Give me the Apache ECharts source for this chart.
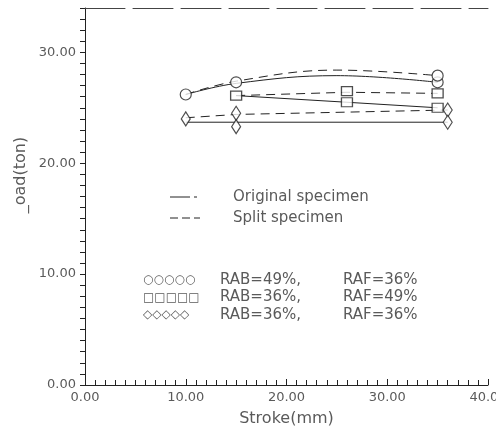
<!DOCTYPE html>
<html><head><meta charset="utf-8">
<script src="https://cdn.jsdelivr.net/npm/echarts@6/dist/echarts.min.js"></script>
<style>html,body{margin:0;padding:0;background:#fff;overflow:hidden}#c{width:496px;height:432px}</style>
</head><body><div id="c"></div>
<script>
// ---- data ----
const xTicks = [0, 10, 20, 30, 40];
const yTicks = [0, 10, 20, 30];
// fitted curves (solid = Original specimen, dashed = Split specimen)
const circOrigLine  = [[10,26.2],[15,27.2],[25,27.9],[35,27.3]];
const circSplitLine = [[10,26.2],[15,27.4],[25,28.4],[35,27.9]];
const sqOrigLine    = [[15,26.1],[26,25.5],[35,25.0]];
const sqSplitLine   = [[15,26.1],[26,26.4],[35,26.3]];
const diaOrigLine   = [[10,23.7],[36,23.7]];
const diaSplitLine  = [[10,24.1],[15,24.4],[36,24.8]];
// measured points
const circlePts  = [[10,26.2],[15,27.3],[35,27.3],[35,27.9]];
const squarePts  = [[15,26.1],[26,26.5],[26,25.5],[35,26.3],[35,25.0]];
const diamondPts = [[10,24.0],[15,24.5],[15,23.3],[36,24.8],[36,23.7]];
const seriesNames = ['Original specimen', 'Split specimen'];
const markerLabels = [['RAB=49%,', 'RAF=36%'], ['RAB=36%,', 'RAF=49%'], ['RAB=36%,', 'RAF=36%']];
const markerGlyphs = ['○○○○○', '□□□□□', '◇◇◇◇◇'];

const ink = '#222';
const txt = '#5a5a5a';
const font = 'DejaVu Sans';
const solid = {color: ink, width: 1, type: 'solid'};
const dashed = {color: ink, width: 1, type: [9, 6]};

function lineSeries(data, style, smooth) {
  return {type: 'line', data, showSymbol: false, symbol: 'none', smooth: smooth ? 0.4 : false,
    lineStyle: style, silent: true, z: 2};
}
function scatter(data, symbol, size) {
  return {type: 'scatter', data, symbol, symbolSize: size,
    itemStyle: {color: '#fff', borderColor: ink, borderWidth: 1.2}, z: 3};
}

const graphics = [];
// line legend
graphics.push({type: 'line', shape: {x1: 170, y1: 197, x2: 190, y2: 197}, style: {stroke: ink, lineWidth: 1}});
graphics.push({type: 'line', shape: {x1: 194, y1: 197, x2: 197, y2: 197}, style: {stroke: ink, lineWidth: 1}});
graphics.push({type: 'line', shape: {x1: 170, y1: 218, x2: 200, y2: 218}, style: {stroke: ink, lineWidth: 1, lineDash: [8, 4]}});
seriesNames.forEach((n, i) => {
  graphics.push({type: 'text', x: 233, y: 197 + i * 21, style: {text: n, font: '15px ' + font, fill: txt, textVerticalAlign: 'middle'}});
});
markerLabels.forEach((m, i) => {
  const y = 280 + i * 17.5;
  graphics.push({type: 'text', x: 143, y, style: {text: markerGlyphs[i], font: '12px ' + font, fill: txt, textVerticalAlign: 'middle'}});
  graphics.push({type: 'text', x: 220, y, style: {text: m[0], font: '15px ' + font, fill: txt, textVerticalAlign: 'middle'}});
  graphics.push({type: 'text', x: 343, y, style: {text: m[1], font: '15px ' + font, fill: txt, textVerticalAlign: 'middle'}});
});
// y axis title
graphics.push({type: 'text', x: 21, y: 175, rotation: Math.PI / 2,
  style: {text: '_oad(ton)', font: '16px ' + font, fill: txt, textAlign: 'center', textVerticalAlign: 'middle'}});

const chart = echarts.init(document.getElementById('c'), null, {renderer: 'canvas'});
chart.setOption({
  animation: false,
  backgroundColor: '#fff',
  grid: {left: 85, right: 8, top: 8, bottom: 47, containLabel: false, outerBoundsMode: 'none'},
  xAxis: [{
    type: 'value', min: xTicks[0], max: xTicks[xTicks.length - 1], interval: 10,
    name: 'Stroke(mm)', nameLocation: 'middle', nameGap: 26,
    nameTextStyle: {fontFamily: font, fontSize: 16, color: txt},
    axisLine: {lineStyle: {color: ink, width: 1}},
    axisTick: {inside: true, length: 6, lineStyle: {color: ink}},
    minorTick: {show: true, splitNumber: 10, length: 5, lineStyle: {color: ink}},
    splitLine: {show: false},
    axisLabel: {formatter: v => v.toFixed(2), fontFamily: font, fontSize: 13, color: txt, margin: 6, showMaxLabel: true, hideOverlap: false}
  }, {
    type: 'value', position: 'top', min: 0, max: 40,
    axisLine: {show: true, lineStyle: {color: '#444', width: 1, type: [40, 8]}},
    axisTick: {show: false}, axisLabel: {show: false}, splitLine: {show: false}
  }],
  yAxis: {
    type: 'value', min: yTicks[0], max: 34, interval: 1,
    axisLine: {onZero: false, lineStyle: {color: ink, width: 1}},
    axisTick: {length: 5, lineStyle: {color: ink}},
    splitLine: {show: false},
    axisLabel: {formatter: v => (yTicks.indexOf(v) >= 0 ? v.toFixed(2) : ''), fontFamily: font, fontSize: 13, color: txt, margin: 9}
  },
  graphic: graphics,
  series: [
    lineSeries(circOrigLine, solid, true),
    lineSeries(circSplitLine, dashed, true),
    lineSeries(sqOrigLine, solid, false),
    lineSeries(sqSplitLine, dashed, false),
    lineSeries(diaOrigLine, solid, false),
    lineSeries(diaSplitLine, dashed, false),
    scatter(circlePts, 'circle', 11),
    scatter(squarePts, 'rect', [11, 9]),
    scatter(diamondPts, 'diamond', [9, 14])
  ]
});
</script>
</body></html>
